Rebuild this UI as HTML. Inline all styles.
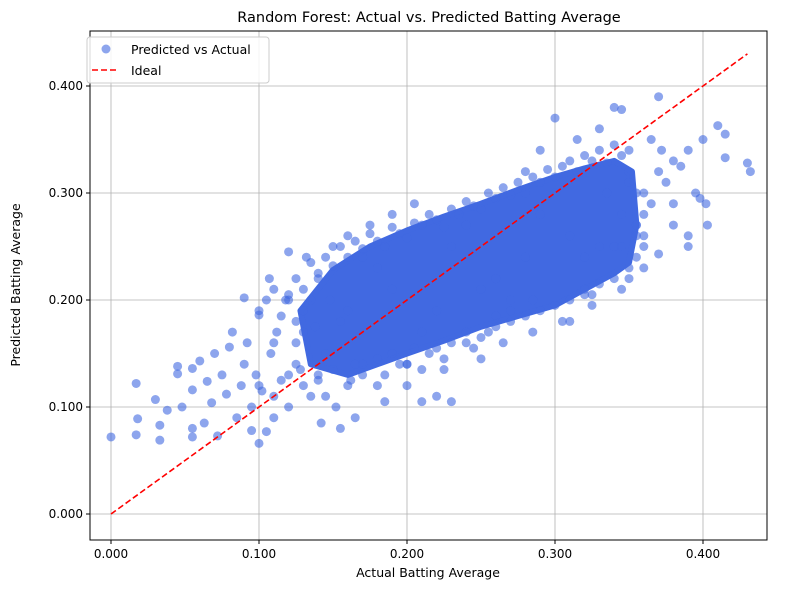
<!DOCTYPE html>
<html><head><meta charset="utf-8"><style>
body{margin:0;background:#fff;}
svg text{font-family:"DejaVu Sans","Liberation Sans",sans-serif;fill:#000;}
</style></head><body>
<svg id="chart" width="790" height="590" xmlns="http://www.w3.org/2000/svg">
<rect width="790" height="590" fill="#fff"/>
<text x="429" y="22" font-size="14.5" text-anchor="middle">Random Forest: Actual vs. Predicted Batting Average</text>
<g id="grid"></g>
<g id="core"></g>
<g id="points"></g>
<g id="ideal"></g>
<rect x="90" y="31" width="677" height="509" fill="none" stroke="#000" stroke-width="1"/>
<g id="ticks"></g>
<text x="428" y="577" font-size="12.5" text-anchor="middle">Actual Batting Average</text>
<text transform="translate(20,285) rotate(-90)" font-size="12.5" text-anchor="middle">Predicted Batting Average</text>
<g>
<rect x="87" y="37" width="182" height="46" rx="3" fill="#fff" fill-opacity="0.85" stroke="#ccc"/>
<circle cx="106" cy="49" r="4.5" fill="#4169e1" fill-opacity="0.6"/>
<text x="131" y="54" font-size="12.5">Predicted vs Actual</text>
<line x1="92" y1="70" x2="119" y2="70" stroke="#f00" stroke-width="1.6" stroke-dasharray="6,3"/>
<text x="131" y="75" font-size="12.5">Ideal</text>
</g>
</svg>
<script>
const xTicks=[0,0.1,0.2,0.3,0.4];
const yTicks=[0,0.1,0.2,0.3,0.4];
const tickLabels=["0.000","0.100","0.200","0.300","0.400"];
const coreX=[0.128,0.15,0.175,0.2,0.225,0.25,0.275,0.3,0.32,0.34,0.352,0.355,0.35,0.34,0.32,0.3,0.275,0.25,0.225,0.2,0.18,0.16,0.135];
const coreY=[0.19,0.228,0.25,0.265,0.278,0.29,0.303,0.315,0.323,0.33,0.32,0.27,0.235,0.225,0.21,0.195,0.185,0.175,0.162,0.15,0.14,0.13,0.14];
const actual=[0,0.017,0.017,0.018,0.033,0.033,0.03,0.038,0.045,0.045,0.048,0.055,0.055,0.06,0.055,0.055,0.063,0.065,0.068,0.07,0.072,0.075,0.078,0.08,0.082,0.085,0.088,0.09,0.09,0.092,0.095,0.095,0.098,0.1,0.1,0.102,0.105,0.107,0.108,0.11,0.112,0.115,0.118,0.12,0.12,0.125,0.128,0.13,0.132,0.135,0.138,0.14,0.142,0.145,0.148,0.15,0.152,0.155,0.16,0.162,0.165,0.17,0.175,0.18,0.185,0.19,0.195,0.2,0.205,0.21,0.215,0.22,0.225,0.23,0.24,0.25,0.255,0.26,0.27,0.28,0.285,0.29,0.3,0.31,0.315,0.32,0.325,0.33,0.34,0.345,0.35,0.355,0.36,0.365,0.37,0.37,0.372,0.375,0.38,0.38,0.385,0.39,0.39,0.395,0.398,0.4,0.402,0.403,0.41,0.415,0.415,0.43,0.432,0.36,0.35,0.34,0.37,0.39,0.38,0.12,0.13,0.14,0.17,0.2,0.24,0.27,0.3,0.33,0.11,0.125,0.135,0.16,0.18,0.21,0.23,0.26,0.29,0.31,0.335,0.345,0.355,0.155,0.19,0.22,0.25,0.28,0.32,
0.1,0.105,0.11,0.115,0.12,0.125,0.13,0.135,0.14,0.145,0.15,0.155,0.16,0.165,0.17,0.175,0.18,0.185,0.19,0.195,0.2,0.205,0.21,0.215,0.22,0.225,0.23,0.235,0.24,0.245,0.25,0.255,0.26,0.265,0.27,0.275,0.28,0.285,0.29,0.295,0.3,0.305,0.31,0.315,0.32,0.325,0.33,0.335,0.34,0.345,
0.1,0.11,0.12,0.125,0.13,0.14,0.145,0.15,0.16,0.165,0.17,0.18,0.185,0.19,0.2,0.205,0.21,0.22,0.225,0.23,0.24,0.245,0.25,0.26,0.265,0.27,0.28,0.285,0.29,0.3,0.305,0.31,0.32,0.325,0.33,0.34,0.345,0.35,0.36,0.355,
0.35,0.355,0.36,0.36,0.365,0.355,0.35,0.345];
const predicted=[0.072,0.074,0.122,0.089,0.069,0.083,0.107,0.097,0.131,0.138,0.1,0.116,0.136,0.143,0.072,0.08,0.085,0.124,0.104,0.15,0.073,0.13,0.112,0.156,0.17,0.09,0.12,0.202,0.14,0.16,0.078,0.1,0.13,0.186,0.066,0.115,0.077,0.22,0.15,0.09,0.17,0.125,0.2,0.245,0.1,0.16,0.135,0.19,0.24,0.11,0.175,0.22,0.085,0.15,0.2,0.25,0.1,0.08,0.26,0.125,0.09,0.14,0.27,0.12,0.105,0.28,0.14,0.12,0.29,0.105,0.15,0.11,0.135,0.105,0.16,0.145,0.17,0.185,0.19,0.32,0.2,0.34,0.37,0.18,0.35,0.21,0.205,0.36,0.38,0.378,0.34,0.26,0.23,0.35,0.39,0.243,0.34,0.31,0.33,0.27,0.325,0.26,0.34,0.3,0.295,0.35,0.29,0.27,0.363,0.355,0.333,0.328,0.32,0.3,0.22,0.25,0.32,0.25,0.29,0.2,0.17,0.13,0.24,0.14,0.27,0.2,0.3,0.25,0.16,0.18,0.2,0.19,0.23,0.17,0.25,0.22,0.28,0.26,0.3,0.28,0.27,0.18,0.21,0.19,0.21,0.24,0.24,
0.19,0.2,0.21,0.185,0.205,0.22,0.21,0.235,0.225,0.24,0.232,0.25,0.24,0.255,0.248,0.262,0.255,0.25,0.268,0.262,0.258,0.272,0.27,0.28,0.275,0.268,0.285,0.28,0.292,0.288,0.285,0.3,0.295,0.305,0.298,0.31,0.3,0.315,0.31,0.322,0.315,0.325,0.33,0.32,0.335,0.33,0.34,0.328,0.345,0.335,
0.12,0.11,0.13,0.14,0.12,0.125,0.11,0.135,0.12,0.14,0.13,0.145,0.13,0.15,0.14,0.155,0.135,0.155,0.145,0.16,0.17,0.155,0.165,0.175,0.16,0.18,0.185,0.17,0.19,0.195,0.18,0.2,0.205,0.195,0.215,0.22,0.21,0.23,0.25,0.27,
0.32,0.3,0.28,0.26,0.29,0.24,0.31,0.25];
const idealX=[0,0.43];
const NS="http://www.w3.org/2000/svg";
const X=v=>111+v*1480;
const Y=v=>514-v*1070;
function mk(t,a,p){const e=document.createElementNS(NS,t);for(const k in a)e.setAttribute(k,a[k]);document.getElementById(p).appendChild(e);return e;}
xTicks.forEach((v,i)=>{
 const g=mk('line',{x1:X(v),x2:X(v),y1:31,y2:540,stroke:'#b0b0b0','stroke-width':0.8},'grid');
 
 
 mk('line',{x1:X(v),x2:X(v),y1:540,y2:544,stroke:'#000'},'ticks');
 const t=mk('text',{x:X(v),y:558,'font-size':12,'text-anchor':'middle'},'ticks');t.textContent=tickLabels[i];
 
 
});
yTicks.forEach((v,i)=>{
 const g=mk('line',{x1:90,x2:767,y1:Y(v),y2:Y(v),stroke:'#b0b0b0','stroke-width':0.8},'grid');
 
 
 mk('line',{x1:86,x2:90,y1:Y(v),y2:Y(v),stroke:'#000'},'ticks');
 const t=mk('text',{x:83,y:Y(v)+4,'font-size':12,'text-anchor':'end'},'ticks');t.textContent=tickLabels[i];
 
 
});
const core=mk('polygon',{points:coreX.map((v,i)=>X(v)+','+Y(coreY[i])).join(' '),fill:'#4169e1',stroke:'#4169e1','stroke-width':6,'stroke-linejoin':'round'},'core');


actual.forEach((v,i)=>{
 const c=mk('circle',{cx:X(v),cy:Y(predicted[i]),r:4.5,fill:'#4169e1','fill-opacity':0.6},'points');
 
 
});
const l=mk('line',{x1:X(idealX[0]),y1:Y(idealX[0]),x2:X(idealX[1]),y2:Y(idealX[1]),stroke:'#f00','stroke-width':1.6,'stroke-dasharray':'6,3'},'ideal');


</script>
</body></html>
